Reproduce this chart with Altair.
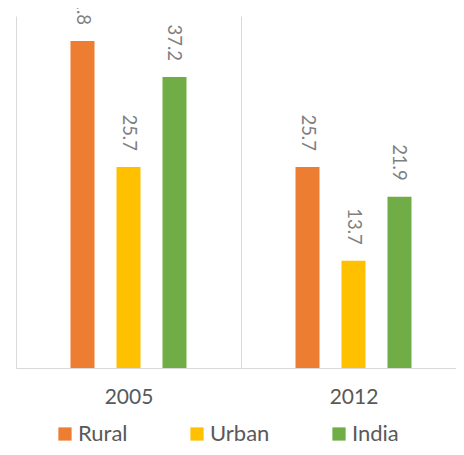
import altair as alt
import pandas as pd

years = ["2005", "2012"]
series = ["Rural", "Urban", "India"]
rural = [41.8, 25.7]
urban = [25.7, 13.7]
india = [37.2, 21.9]
colors = ["#ED7D31", "#FFC000", "#70AD47"]

rows = []
for name, vals in zip(series, [rural, urban, india]):
    for yr, v in zip(years, vals):
        rows.append({"year": yr, "series": name, "value": v})
df = pd.DataFrame(rows)

x = alt.X(
    "year:N",
    sort=years,
    scale=alt.Scale(range=[0, 450], paddingInner=0, paddingOuter=0),
    axis=alt.Axis(
        title=None, grid=True, tickBand="extent", ticks=False, labelAngle=0,
        labelPadding=18, labelFontSize=21, labelColor="#595959", labelFont="Lato",
        domainColor="#D9D9D9", gridColor="#D9D9D9", domainWidth=1, gridWidth=1,
    ),
)
xo = alt.XOffset("series:N", sort=series,
                 scale=alt.Scale(range=[54.5, 170.5], paddingInner=0.478, paddingOuter=0))
y = alt.Y("value:Q", scale=alt.Scale(domain=[0, 45], nice=False), axis=None)

bars = alt.Chart(df).mark_bar().encode(
    x=x, xOffset=xo, y=y,
    color=alt.Color(
        "series:N", sort=series,
        scale=alt.Scale(domain=series, range=colors),
        legend=alt.Legend(
            title=None, orient="none", legendX=38, legendY=407, direction="horizontal",
            symbolType="square", symbolSize=175, symbolStrokeWidth=0,
            labelFontSize=22, labelFont="Lato", labelColor="#595959",
            labelOffset=2, columnPadding=58, padding=0,
        ),
    ),
)

labels = alt.Chart(df).mark_text(
    angle=90, align="right", baseline="middle", dx=-16,
    font="Lato", fontSize=18.5, color="#7F7F7F",
).encode(x=x, xOffset=xo, y=y, text=alt.Text("value:Q", format=".1f"))

chart = (bars + labels).properties(
    width=440, height=352,
    autosize=alt.AutoSizeParams(type="none"),
    padding={"left": 8, "top": 8, "right": 0, "bottom": 79},
).configure_view(stroke=None)

chart.save("out.html", embed_options={"renderer": "svg", "actions": False})
